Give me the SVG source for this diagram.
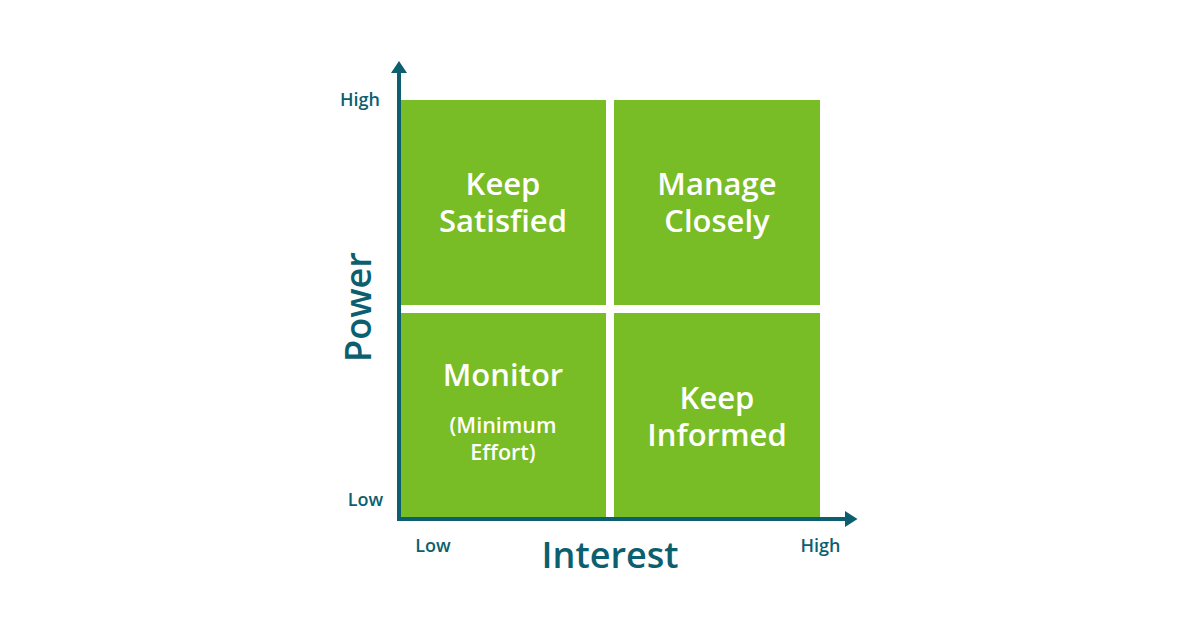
<svg xmlns="http://www.w3.org/2000/svg" width="1200" height="630" viewBox="0 0 1200 630">
<style>
.q{fill:#78bc26}
.qt{font-family:"Open Sans","Noto Sans",sans-serif;font-weight:600;fill:#ffffff;text-anchor:middle;font-size:31px}
.qs{font-size:21.5px}
.ax{stroke:#0b5f6f;stroke-width:4;fill:none}
.ah{fill:#0b5f6f}
.lb{font-family:"Open Sans","Noto Sans",sans-serif;font-weight:600;fill:#0b5f6f;text-anchor:middle;font-size:18px}
.tt{font-family:"Open Sans","Noto Sans",sans-serif;font-weight:600;fill:#0b5f6f;text-anchor:middle;font-size:36px}
</style>
<rect width="1200" height="630" fill="#ffffff"/>
<g id="keep-satisfied">
<rect class="q" x="399" y="100" width="207" height="205"/>
<text class="qt" x="503" y="195">Keep</text>
<text class="qt" x="503" y="232">Satisfied</text>
</g>
<g id="manage-closely">
<rect class="q" x="614" y="100" width="206" height="205"/>
<text class="qt" x="717" y="195">Manage</text>
<text class="qt" x="717" y="232">Closely</text>
</g>
<g id="monitor">
<rect class="q" x="399" y="313" width="207" height="205"/>
<text class="qt" x="503" y="386">Monitor</text>
<text class="qt qs" x="503" y="433">(Minimum</text>
<text class="qt qs" x="503" y="460">Effort)</text>
</g>
<g id="keep-informed">
<rect class="q" x="614" y="313" width="206" height="205"/>
<text class="qt" x="717" y="409">Keep</text>
<text class="qt" x="717" y="446">Informed</text>
</g>
<g id="connectors">
<path class="ax" d="M399 519 V72"/>
<path class="ax" d="M397 519 H846"/>
<path class="ah" d="M391 73 L399 61 L407 73 Z"/>
<path class="ah" d="M845 511 L857.5 519 L845 527 Z"/>
</g>
<g id="labels">
<text class="lb" x="360" y="106">High</text>
<text class="lb" x="365.5" y="506">Low</text>
<text class="lb" x="433" y="552">Low</text>
<text class="lb" x="820.5" y="552">High</text>
<text class="tt" x="610" y="568">Interest</text>
<text class="tt" transform="translate(371 307) rotate(-90)" x="0" y="0">Power</text>
</g>
</svg>
